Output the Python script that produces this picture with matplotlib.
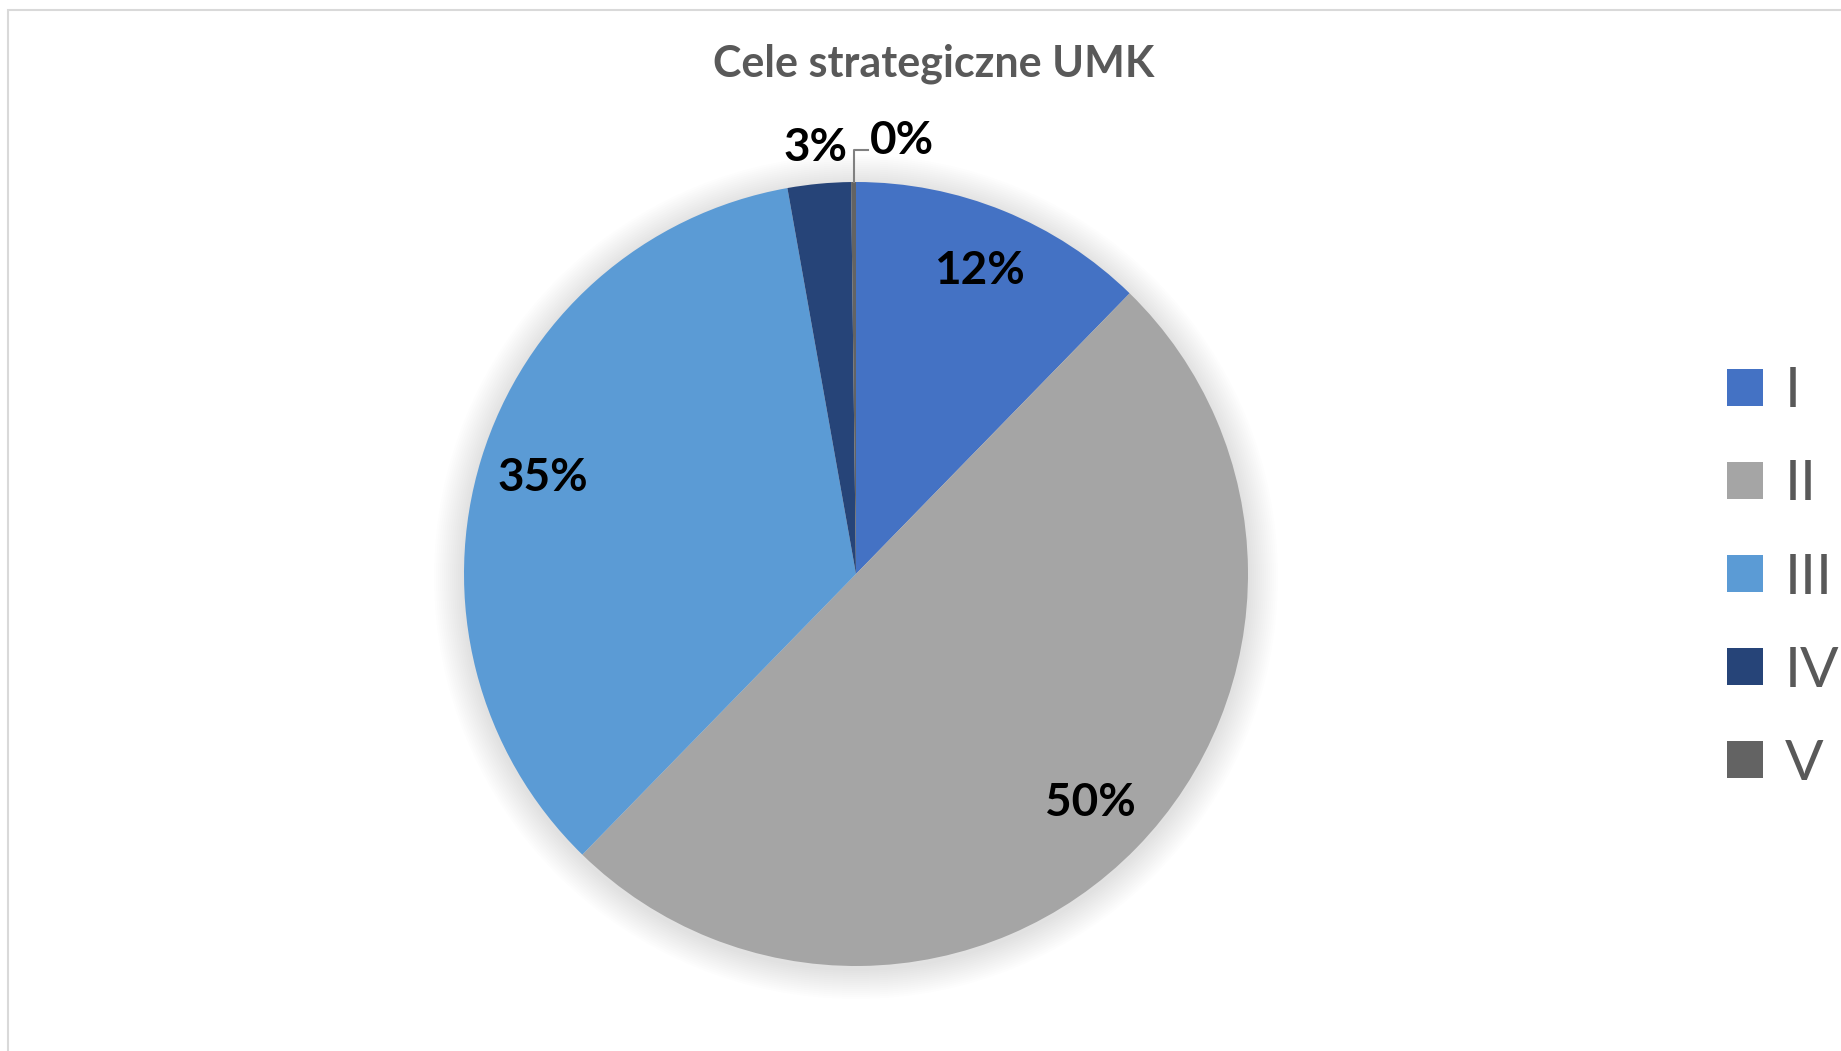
import numpy as np
import matplotlib
matplotlib.use("Agg")
import matplotlib.pyplot as plt
from matplotlib.patches import Circle, Rectangle

# data (percent of total)
categories = ["I", "II", "III", "IV", "V"]
shares = [12.3, 50.0, 34.9, 2.6, 0.2]
colors = ["#4472C4", "#A5A5A5", "#5B9BD5", "#264478", "#636363"]
title = "Cele strategiczne UMK"

W, H = 1841, 1051
fig = plt.figure(figsize=(W / 100, H / 100), dpi=100)
ax = fig.add_axes([0, 0, 1, 1])

cx, cy, R = 856, H - 574, 392

# soft glow behind the pie
for k in range(30, 0, -2):
    ax.add_patch(Circle((cx, cy - 3), R + k, color="black", alpha=0.009, lw=0, zorder=0))

wedges, texts, autotexts = ax.pie(
    shares, colors=colors, startangle=90, counterclock=False,
    center=(cx, cy), radius=R, autopct="%1.0f%%", pctdistance=0.835,
    wedgeprops=dict(linewidth=0), frame=True,
    textprops=dict(fontsize=33, fontweight="bold", color="black", family="Lato"))
ax.set_xlim(0, W)
ax.set_ylim(0, H)
ax.set_aspect("equal")
ax.axis("off")

# small slices: labels outside the pie
def mid_angle(w):
    return np.deg2rad((w.theta1 + w.theta2) / 2)

a = mid_angle(wedges[3])
autotexts[3].set_position((cx + 1.10 * R * np.cos(a), cy + 1.10 * R * np.sin(a) - 3))

a = mid_angle(wedges[4])
ex, ey = cx + R * np.cos(a), cy + R * np.sin(a)
ly = H - 150
ax.plot([ex, ex, ex + 14], [ey, ly, ly], color="#808080", lw=1.5, zorder=5)
autotexts[4].set_position((ex + 48, ly + 9))

fig.text(934 / W, 1 - 77 / H, title, ha="center", va="baseline",
         fontsize=31, fontweight="bold", color="#595959", family="Lato")

leg = fig.legend(wedges, categories, loc="center left",
                 bbox_to_anchor=(1727 / W, 1 - 578 / H), frameon=False,
                 prop=dict(family="Lato", size=41), labelcolor="#595959",
                 handlelength=0.63, handleheight=0.63, handletextpad=0.39,
                 labelspacing=0.74, borderpad=0, borderaxespad=0)

# chart area border
fig.patches.append(Rectangle((8 / W, -0.1), 1.2, 1 - 10 / H + 0.1,
                             transform=fig.transFigure, fill=False,
                             edgecolor="#D9D9D9", lw=1.5))

fig.savefig("out.png", dpi=100, facecolor="white")
